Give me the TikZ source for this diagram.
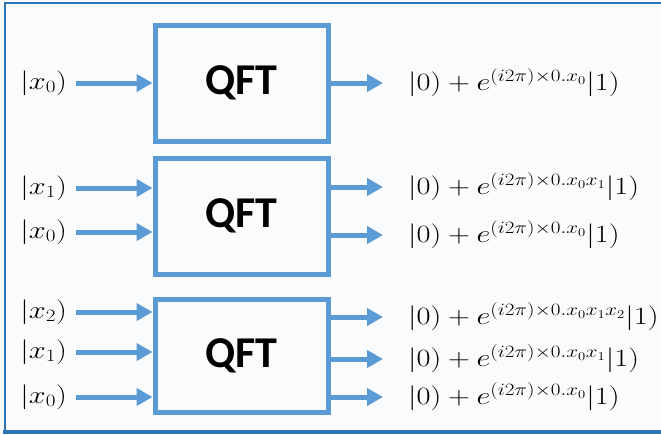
\documentclass[tikz,border=0pt]{standalone}
\usepackage{fontspec}
\usepackage{graphicx}
\newfontfamily\qftfont{Carlito}
\usetikzlibrary{arrows.meta}
\definecolor{qblue}{HTML}{5B9BD5}
\definecolor{frameblue}{HTML}{2E75B6}
\definecolor{bgc}{HTML}{FAFBFC}
\newcommand{\wide}[1]{\scalebox{1.22}[1]{#1}}
\begin{document}
\begin{tikzpicture}[x=1pt,y=-1pt,
  qbox/.style={draw=qblue,line width=5pt,minimum width=173pt,inner sep=0pt,
    font=\qftfont\bfseries\fontsize{44}{44}\selectfont},
  inlab/.style={anchor=east,inner sep=0pt,font=\fontsize{23}{27}\selectfont},
  outlab/.style={anchor=west,inner sep=0pt,font=\fontsize{23}{27}\selectfont},
  arr/.style={draw=qblue,line width=5pt,-{Triangle[length=16pt,width=17pt]}},
  inarr/.style={arr,shorten <=9pt},
  outarr/.style={arr,shorten >=25pt}]
\useasboundingbox (0,0) rectangle (661,434);
\fill[bgc] (0,0) rectangle (661,434);
\draw[frameblue,line width=1.6pt] (661,3) -- (5,3) -- (5,432);
\draw[frameblue,line width=4pt] (3.2,432) -- (661,432);

% box 1
\node[qbox,minimum height=116pt] (b1) at (241.5,83) {QFT};
\node[inlab] (i10) at (67,83) {\wide{$|x_0)$}};
\node[outlab] (o10) at (408,83) {\wide{$|0) + e^{(i2\pi)\times 0.x_0}|1)$}};
\draw[inarr] (i10.east) -- (b1.west |- i10);
\draw[outarr] (b1.east |- o10) -- (o10.west);

% box 2
\node[qbox,minimum height=116pt] (b2) at (241.5,216) {QFT};
\node[inlab] (i21) at (67,188) {\wide{$|x_1)$}};
\node[inlab] (i20) at (67,232) {\wide{$|x_0)$}};
\node[outlab] (o21) at (408,187) {\wide{$|0) + e^{(i2\pi)\times 0.x_0x_1}|1)$}};
\node[outlab] (o20) at (408,235) {\wide{$|0) + e^{(i2\pi)\times 0.x_0}|1)$}};
\draw[inarr] (i21.east) -- (b2.west |- i21);
\draw[inarr] (i20.east) -- (b2.west |- i20);
\draw[outarr] (b2.east |- o21) -- (o21.west);
\draw[outarr] (b2.east |- o20) -- (o20.west);

% box 3
\node[qbox,minimum height=113pt] (b3) at (241.5,356) {QFT};
\node[inlab] (i32) at (67,312) {\wide{$|x_2)$}};
\node[inlab] (i31) at (67,352) {\wide{$|x_1)$}};
\node[inlab] (i30) at (67,397) {\wide{$|x_0)$}};
\node[outlab] (o32) at (408,317) {\wide{$|0) + e^{(i2\pi)\times 0.x_0x_1x_2}|1)$}};
\node[outlab] (o31) at (408,359) {\wide{$|0) + e^{(i2\pi)\times 0.x_0x_1}|1)$}};
\node[outlab] (o30) at (408,397) {\wide{$|0) + e^{(i2\pi)\times 0.x_0}|1)$}};
\draw[inarr] (i32.east) -- (b3.west |- i32);
\draw[inarr] (i31.east) -- (b3.west |- i31);
\draw[inarr] (i30.east) -- (b3.west |- i30);
\draw[outarr] (b3.east |- o32) -- (o32.west);
\draw[outarr] (b3.east |- o31) -- (o31.west);
\draw[outarr] (b3.east |- o30) -- (o30.west);
\end{tikzpicture}
\end{document}
